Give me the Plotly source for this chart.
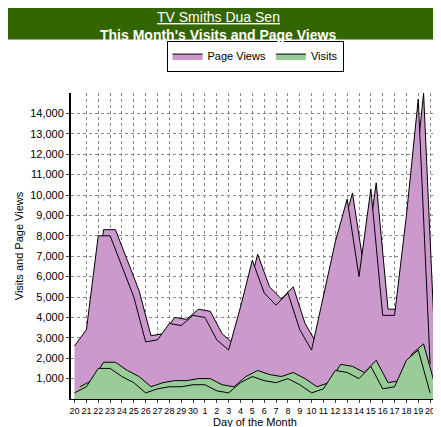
import plotly.graph_objects as go

days = ["20","21","22","23","24","25","26","27","28","29","30","1","2","3","4","5","6","7","8","9","10","11","12","13","14","15","16","17","18","19","20"]
page_views = [2600,3400,8000,8000,6500,5000,2800,2900,3700,3600,4100,4000,2900,2400,4500,6800,5200,4600,5200,3400,2400,5000,7700,9800,6000,10300,4100,4100,9000,14700,1700]
visits = [300,600,1500,1500,1100,800,300,500,600,600,700,700,400,300,800,1100,900,800,1000,700,300,500,1400,1300,1000,1600,500,600,1900,2400,300]

x = list(range(len(days)))
dx, dy = 0.45, 300
fig = go.Figure()
fig.add_trace(go.Scatter(x=[i+dx for i in x], y=[v+dy for v in page_views], fill="tozeroy", mode="lines",
                         line=dict(color="black", width=1), fillcolor="#cc99cc", showlegend=False, hoverinfo="skip"))
fig.add_trace(go.Scatter(x=x, y=page_views, fill="tozeroy", mode="lines", name="Page Views",
                         line=dict(color="black", width=1), fillcolor="#cc99cc"))
fig.add_trace(go.Scatter(x=[i+dx for i in x], y=[v+dy for v in visits], fill="tozeroy", mode="lines",
                         line=dict(color="black", width=1), fillcolor="#99cc99", showlegend=False, hoverinfo="skip"))
fig.add_trace(go.Scatter(x=x, y=visits, fill="tozeroy", mode="lines", name="Visits",
                         line=dict(color="black", width=1), fillcolor="#99cc99"))

fig.update_layout(
    width=441, height=427, paper_bgcolor="white", plot_bgcolor="white",
    margin=dict(l=62, r=10, t=85, b=28),
    font=dict(family="Liberation Sans, Arial", size=11, color="black"),
    showlegend=True,
    legend=dict(orientation="h", x=0.5, xanchor="center", y=1.07, yanchor="bottom",
                bordercolor="black", borderwidth=1, bgcolor="white", font=dict(size=11)),
    xaxis=dict(tickmode="array", tickvals=x, ticktext=days, range=[-0.3, len(x)-1+dx+0.3], tickangle=0,
               showgrid=True, gridcolor="#888", griddash="3px,3px", gridwidth=1,
               showline=True, linecolor="black", ticks="outside", ticklen=3, tickfont=dict(size=9),
               title=dict(text="Day of the Month", font=dict(size=11), standoff=2)),
    yaxis=dict(range=[0, 15000], tickvals=list(range(1000, 15000, 1000)),
               tickformat=",", showgrid=True, gridcolor="#888", griddash="3px,3px",
               showline=True, linecolor="black", linewidth=2, ticks="outside", ticklen=3, tickfont=dict(size=11),
               title=dict(text="Visits and Page Views", font=dict(size=11), standoff=4)),
    shapes=[dict(type="rect", xref="paper", yref="paper", x0=-0.2, x1=1.05, y0=1.175, y1=1.4,
                 fillcolor="#336600", line=dict(width=0), layer="below")],
    annotations=[
        dict(text="<u>TV Smiths Dua Sen</u>", xref="paper", yref="paper", x=0.4, y=1.28, showarrow=False,
             font=dict(size=14, color="white")),
        dict(text="<b>This Month's Visits and Page Views</b>", xref="paper", yref="paper", x=0.4, y=1.222,
             showarrow=False, font=dict(size=14, color="white")),
    ],
)
fig.write_html("out.html")
